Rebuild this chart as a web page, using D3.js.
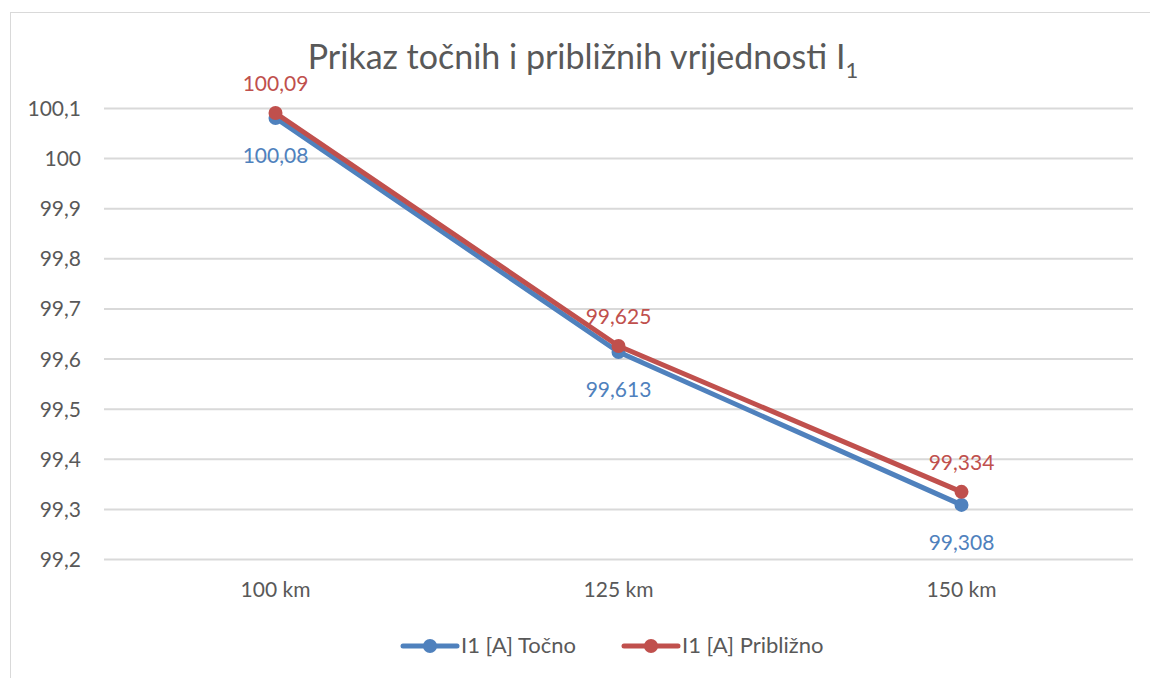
<!DOCTYPE html>
<html>
<head>
<meta charset="utf-8">
<script src="https://cdn.jsdelivr.net/npm/d3@7"></script>
<style>
  body { margin: 0; background: #fff; }
  text { font-family: Lato, "Open Sans", sans-serif; }
</style>
</head>
<body>
<main></main>
<script>
// Data
const categories = ["100 km", "125 km", "150 km"];
const tocno = [100.08, 99.613, 99.308];
const priblizno = [100.09, 99.625, 99.334];
const yTicks = [99.2, 99.3, 99.4, 99.5, 99.6, 99.7, 99.8, 99.9, 100, 100.1];
const seriesNames = ["I1 [A] Točno", "I1 [A] Približno"];

// Dimensions
const w = 1150;
const h = 678;
const colors = ["#4f81bd", "#c0504d"];
const axisColor = "#595959";
const fmt = (v) => String(v).replace(".", ",");

const svg = d3
  .select("main")
  .append("svg")
  .attr("width", w)
  .attr("height", h);

// Chart border
svg
  .append("rect")
  .attr("x", 10.5)
  .attr("y", 12.5)
  .attr("width", w)
  .attr("height", h)
  .attr("fill", "none")
  .attr("stroke", "#d9d9d9");

// Scales
const xScale = d3.scaleBand().domain(categories).range([104, 1133]);
const yScale = d3.scaleLinear().domain([99.2, 100.1]).range([559, 108]);

// Grid lines
svg
  .append("g")
  .attr("transform", "translate(104, 0)")
  .call(d3.axisLeft(yScale).tickValues(yTicks).tickFormat("").tickSize(-(1133 - 104)))
  .call((g) => g.select(".domain").remove())
  .call((g) => g.selectAll("line").attr("stroke", "#d9d9d9").attr("stroke-width", 2));

// Y axis labels
svg
  .append("g")
  .selectAll("text")
  .data(yTicks)
  .enter()
  .append("text")
  .attr("x", 81)
  .attr("y", (d) => yScale(d) + 8)
  .attr("text-anchor", "end")
  .attr("font-size", 21)
  .attr("fill", axisColor)
  .text(fmt);

// X axis labels
svg
  .append("g")
  .selectAll("text")
  .data(categories)
  .enter()
  .append("text")
  .attr("x", (d) => xScale(d) + xScale.bandwidth() / 2)
  .attr("y", 597)
  .attr("text-anchor", "middle")
  .attr("font-size", 21)
  .attr("fill", axisColor)
  .text((d) => d);

// Title
const title = svg
  .append("text")
  .attr("x", 583)
  .attr("y", 69)
  .attr("text-anchor", "middle")
  .attr("font-size", 34)
  .attr("fill", axisColor);
title.append("tspan").text("Prikaz točnih i približnih vrijednosti I");
title.append("tspan").attr("font-size", 22).attr("dy", 9).text("1");

// Lines
const cx = (i) => xScale(categories[i]) + xScale.bandwidth() / 2;
const line = d3
  .line()
  .x((d, i) => cx(i))
  .y((d) => yScale(d));

[tocno, priblizno].forEach((series, s) => {
  svg
    .append("path")
    .datum(series)
    .attr("d", line)
    .attr("fill", "none")
    .attr("stroke", colors[s])
    .attr("stroke-width", 5)
    .attr("stroke-linejoin", "round")
    .attr("stroke-linecap", "round");

  svg
    .append("g")
    .selectAll("circle")
    .data(series)
    .enter()
    .append("circle")
    .attr("cx", (d, i) => cx(i))
    .attr("cy", (d) => yScale(d))
    .attr("r", 7)
    .attr("fill", colors[s]);
});

// Data labels
svg
  .append("g")
  .selectAll("text")
  .data(tocno)
  .enter()
  .append("text")
  .attr("x", (d, i) => cx(i))
  .attr("y", (d) => yScale(d) + 45)
  .attr("text-anchor", "middle")
  .attr("font-size", 21)
  .attr("fill", colors[0])
  .text(fmt);

svg
  .append("g")
  .selectAll("text")
  .data(priblizno)
  .enter()
  .append("text")
  .attr("x", (d, i) => cx(i))
  .attr("y", (d) => yScale(d) - 22)
  .attr("text-anchor", "middle")
  .attr("font-size", 21)
  .attr("fill", colors[1])
  .text(fmt);

// Legend
const legendX = [402, 623];
seriesNames.forEach((name, s) => {
  const g = svg.append("g").attr("transform", `translate(${legendX[s]}, 646)`);
  g.append("line")
    .attr("x1", 1)
    .attr("x2", 55)
    .attr("stroke", colors[s])
    .attr("stroke-width", 5)
    .attr("stroke-linecap", "round");
  g.append("circle").attr("cx", 28).attr("r", 7).attr("fill", colors[s]);
  g.append("text")
    .attr("x", 59)
    .attr("y", 7)
    .attr("font-size", 22)
    .attr("fill", axisColor)
    .text(name);
});
</script>
</body>
</html>
